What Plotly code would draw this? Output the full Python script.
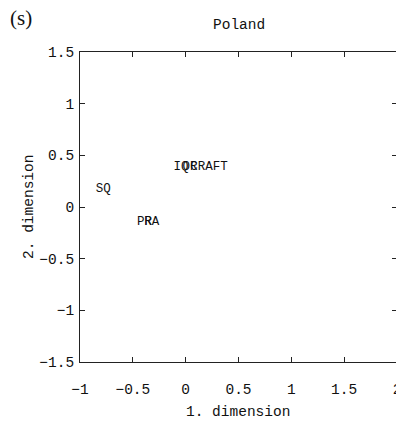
import plotly.graph_objects as go

labels = ["SQ", "PR", "RA", "IQ", "OR", "CRAFT"]
dim1 = [-0.78, -0.39, -0.32, -0.045, 0.04, 0.22]
dim2 = [0.18, -0.14, -0.14, 0.385, 0.385, 0.385]

x_ticks = [-1, -0.5, 0, 0.5, 1, 1.5, 2]
x_tick_text = ["\u22121", "\u22120.5", "0", "0.5", "1", "1.5", "2"]
y_ticks = [-1.5, -1, -0.5, 0, 0.5, 1, 1.5]
y_tick_text = ["\u22121.5", "\u22121", "\u22120.5", "0", "0.5", "1", "1.5"]

mono = "Liberation Mono, DejaVu Sans Mono, monospace"
ink = "#111111"

fig = go.Figure()
fig.add_trace(go.Scatter(
    x=dim1, y=dim2, text=labels, mode="text",
    textposition="middle center",
    textfont=dict(family=mono, size=12.5, color=ink),
    hoverinfo="skip", showlegend=False,
))

axis_common = dict(
    showgrid=False, zeroline=False, showline=True, linecolor="#222222",
    linewidth=1, mirror="ticks", ticks="inside", ticklen=5,
    tickcolor="#222222", tickfont=dict(family=mono, size=14.5, color=ink),
    automargin=False, ticklabeloverflow="allow",
)

# page body has an 8px margin, so the figure is offset by 8px right and down
fig.update_layout(
    width=404, height=428,
    margin=dict(l=72, r=15, t=44, b=74),
    paper_bgcolor="white", plot_bgcolor="white",
    xaxis=dict(range=[-1, 2], tickvals=x_ticks, ticktext=x_tick_text,
               ticklabelstandoff=14, **axis_common),
    yaxis=dict(range=[-1.5, 1.5], tickvals=y_ticks, ticktext=y_tick_text,
               ticklabelstandoff=2, **axis_common),
)

fig.add_annotation(text="Poland", xref="paper", yref="paper", x=0.50, y=1.087,
                   xanchor="center", yanchor="middle", showarrow=False,
                   font=dict(family=mono, size=14.5, color=ink))
fig.add_annotation(text="1. dimension", xref="paper", yref="paper", x=0.497, y=-0.161,
                   xanchor="center", yanchor="middle", showarrow=False,
                   font=dict(family=mono, size=14.5, color=ink))
fig.add_annotation(text="2. dimension", xref="paper", yref="paper", x=-0.161, y=0.5,
                   xanchor="center", yanchor="middle", showarrow=False, textangle=-90,
                   font=dict(family=mono, size=14.5, color=ink))
fig.add_annotation(text="(s)", xref="paper", yref="paper", x=-0.227, y=1.11,
                   xanchor="left", yanchor="middle", showarrow=False,
                   font=dict(family="Liberation Serif, serif", size=21, color=ink))

fig.write_html("out.html")
